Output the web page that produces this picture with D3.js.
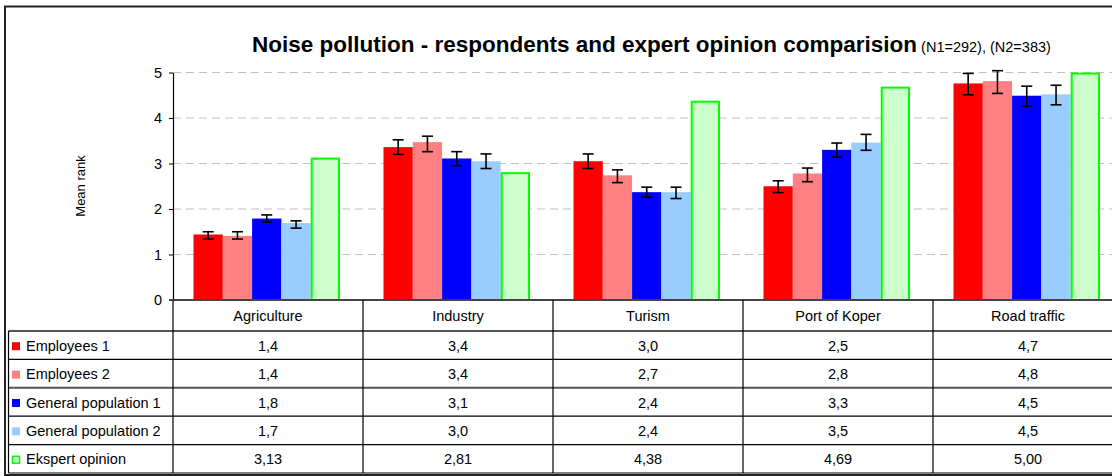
<!DOCTYPE html>
<html>
<head>
<meta charset="utf-8">
<script src="https://cdn.jsdelivr.net/npm/d3@7"></script>
<style>
  body { margin: 0; background: #fff; }
  svg { display: block; font-family: "Liberation Sans", Arial, sans-serif; }
</style>
</head>
<body>
<div id="chart"></div>
<script>
// chart data
const categories = ['Agriculture', 'Industry', 'Turism', 'Port of Koper', 'Road traffic'];
const seriesNames = ['Employees 1', 'Employees 2', 'General population 1', 'General population 2', 'Ekspert opinion'];

const employees1 = [1.44, 3.36, 3.05, 2.50, 4.76];
const employees2 = [1.41, 3.47, 2.74, 2.78, 4.81];
const population1 = [1.79, 3.11, 2.37, 3.30, 4.49];
const population2 = [1.69, 3.05, 2.37, 3.46, 4.52];
const ekspert = [3.13, 2.81, 4.38, 4.69, 5.00];

// error bars [low, high]
const err1 = [[1.34, 1.50], [3.20, 3.52], [2.89, 3.21], [2.36, 2.62], [4.51, 4.98]];
const err2 = [[1.34, 1.50], [3.26, 3.60], [2.58, 2.86], [2.60, 2.90], [4.54, 5.04]];
const errP1 = [[1.71, 1.87], [2.95, 3.26], [2.26, 2.48], [3.14, 3.45], [4.26, 4.70]];
const errP2 = [[1.58, 1.74], [2.89, 3.21], [2.23, 2.48], [3.29, 3.64], [4.29, 4.72]];

// table texts
const tableE1 = ['1,4', '3,4', '3,0', '2,5', '4,7'];
const tableE2 = ['1,4', '3,4', '2,7', '2,8', '4,8'];
const tableP1 = ['1,8', '3,1', '2,4', '3,3', '4,5'];
const tableP2 = ['1,7', '3,0', '2,4', '3,5', '4,5'];
const tableEk = ['3,13', '2,81', '4,38', '4,69', '5,00'];

const yTicks = [0, 1, 2, 3, 4, 5];

const series = [
    { name: seriesNames[0], values: employees1, err: err1, text: tableE1, fill: '#ff0000', stroke: null },
    { name: seriesNames[1], values: employees2, err: err2, text: tableE2, fill: '#ff8080', stroke: null },
    { name: seriesNames[2], values: population1, err: errP1, text: tableP1, fill: '#0000ff', stroke: null },
    { name: seriesNames[3], values: population2, err: errP2, text: tableP2, fill: '#99ccff', stroke: null },
    { name: seriesNames[4], values: ekspert, err: null, text: tableEk, fill: '#ccffcc', stroke: '#00ff00' }
];

const W = 1112, H = 476;
const plotLeft = 173, plotRight = 1123, plotTop = 72.5, plotBottom = 300;
const tableLeft = 8.5;
const rowTop = 331, rowH = 28.4;

const svg = d3.select('#chart').append('svg')
    .attr('width', W)
    .attr('height', H);

// outer frame
svg.append('rect')
    .attr('x', 5).attr('y', 6.5)
    .attr('width', 1200).attr('height', 468.5)
    .attr('fill', 'none')
    .attr('stroke', '#222')
    .attr('stroke-width', 2);

const x = d3.scaleBand().domain(categories).range([plotLeft, plotRight]).padding(0);
const xInner = d3.scaleBand().domain(seriesNames).range([20.5, 167]).padding(0);
const y = d3.scaleLinear().domain([0, 5]).range([plotBottom, plotTop]);

// grid lines
svg.append('g')
    .selectAll('line')
    .data(yTicks.filter(d => d > 0))
    .enter()
    .append('line')
    .attr('x1', plotLeft).attr('x2', plotRight)
    .attr('y1', d => y(d)).attr('y2', d => y(d))
    .attr('stroke', '#c0c0c0')
    .attr('stroke-dasharray', '8,5');

// bars
series.forEach(s => {
    svg.append('g')
        .selectAll('rect')
        .data(s.values)
        .enter()
        .append('rect')
        .attr('x', (d, i) => x(categories[i]) + xInner(s.name) + (s.stroke ? 1 : 0))
        .attr('y', d => y(d) + (s.stroke ? 1 : 0))
        .attr('width', xInner.bandwidth() - (s.stroke ? 2 : 0))
        .attr('height', d => plotBottom - y(d) - (s.stroke ? 1 : 0))
        .attr('fill', s.fill)
        .attr('stroke', s.stroke || 'none')
        .attr('stroke-width', 2);
});

// error bars
series.filter(s => s.err).forEach(s => {
    const g = svg.append('g').attr('stroke', '#000').attr('stroke-width', 1.6);
    s.err.forEach((e, i) => {
        const cx = x(categories[i]) + xInner(s.name) + xInner.bandwidth() / 2;
        g.append('line').attr('x1', cx).attr('x2', cx).attr('y1', y(e[0])).attr('y2', y(e[1]));
        g.append('line').attr('x1', cx - 5.5).attr('x2', cx + 5.5).attr('y1', y(e[0])).attr('y2', y(e[0]));
        g.append('line').attr('x1', cx - 5.5).attr('x2', cx + 5.5).attr('y1', y(e[1])).attr('y2', y(e[1]));
    });
});

// y axis
const yAxis = svg.append('g')
    .attr('transform', `translate(${plotLeft},0)`)
    .call(d3.axisLeft(y).tickValues(yTicks).tickSize(4).tickSizeOuter(0).tickPadding(7).tickFormat(d3.format('d')));
yAxis.selectAll('text').style('font-size', '14.5px').attr('fill', '#000');
yAxis.select('.domain').attr('stroke', '#000').attr('stroke-width', 1.2);

// baseline
svg.append('line')
    .attr('x1', plotLeft - 4).attr('x2', plotRight)
    .attr('y1', plotBottom).attr('y2', plotBottom)
    .attr('stroke', '#444').attr('stroke-width', 2);

// y label
svg.append('text')
    .attr('transform', 'translate(85,186) rotate(-90)')
    .attr('text-anchor', 'middle')
    .style('font-size', '13px')
    .text('Mean rank');

// title
const title = svg.append('text')
    .attr('x', 252).attr('y', 52);
title.append('tspan')
    .style('font-size', '22.5px')
    .style('font-weight', 'bold')
    .text('Noise pollution - respondents and expert opinion comparision');
title.append('tspan')
    .style('font-size', '14.5px')
    .text(' (N1=292), (N2=383)');

// data table
const table = svg.append('g');

// category row
table.selectAll('.cat')
    .data(categories)
    .enter()
    .append('text')
    .attr('x', d => x(d) + x.bandwidth() / 2)
    .attr('y', 320.5)
    .attr('text-anchor', 'middle')
    .style('font-size', '14.5px')
    .text(d => d);

// horizontal rules
d3.range(6).forEach(r => {
    const yy = rowTop + r * rowH;
    const heavy = r === 0 || r === 2;
    table.append('line')
        .attr('x1', tableLeft).attr('x2', plotRight)
        .attr('y1', yy).attr('y2', yy)
        .attr('stroke', heavy ? '#555' : '#000')
        .attr('stroke-width', heavy ? 2 : 1.2);
});

// vertical rules
table.append('line')
    .attr('x1', tableLeft).attr('x2', tableLeft)
    .attr('y1', rowTop).attr('y2', rowTop + 5 * rowH)
    .attr('stroke', '#000').attr('stroke-width', 1.2);
categories.concat(['end']).forEach((c, i) => {
    const xx = plotLeft + i * x.bandwidth();
    table.append('line')
        .attr('x1', xx).attr('x2', xx)
        .attr('y1', plotBottom).attr('y2', rowTop + 5 * rowH)
        .attr('stroke', '#000').attr('stroke-width', 1.2);
});

// rows: legend key + values
series.forEach((s, r) => {
    const cy = rowTop + r * rowH + rowH / 2;
    table.append('rect')
        .attr('x', s.stroke ? 12.5 : 12).attr('y', cy - 3 + (s.stroke ? 0.5 : 0))
        .attr('width', s.stroke ? 7 : 8).attr('height', s.stroke ? 7 : 8)
        .attr('fill', s.fill)
        .attr('stroke', s.stroke || 'none')
        .attr('stroke-width', 1.5);
    table.append('text')
        .attr('x', 26).attr('y', cy + 5.5)
        .style('font-size', '14.5px')
        .text(s.name);
    table.selectAll(null)
        .data(s.text)
        .enter()
        .append('text')
        .attr('x', (d, i) => x(categories[i]) + x.bandwidth() / 2)
        .attr('y', cy + 5.5)
        .attr('text-anchor', 'middle')
        .style('font-size', '14.5px')
        .text(d => d);
});
</script>
</body>
</html>
